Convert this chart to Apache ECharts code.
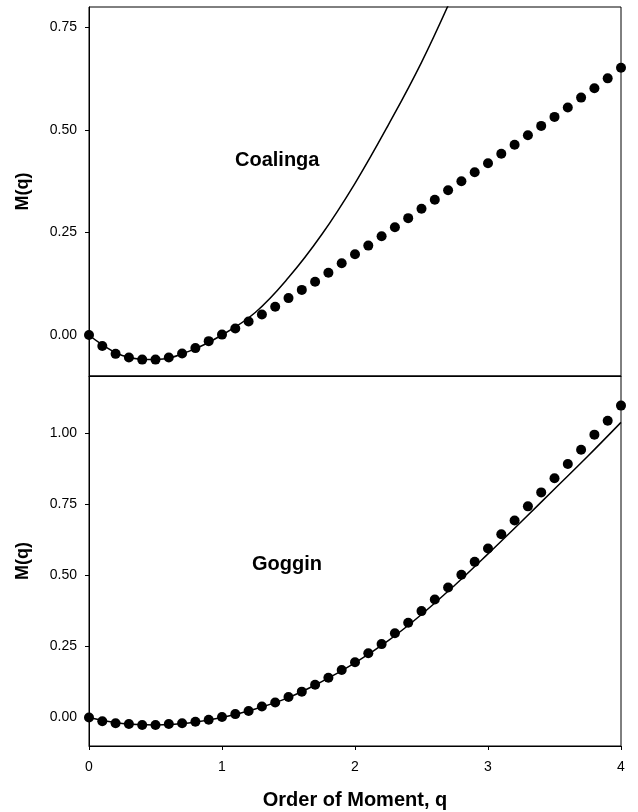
<!DOCTYPE html>
<html>
<head>
<meta charset="utf-8">
<script src="https://cdn.jsdelivr.net/npm/echarts@6/dist/echarts.min.js"></script>
<style>
html,body{margin:0;padding:0;background:#fff;}
#chart{width:638px;height:812px;}
</style>
</head>
<body>
<div id="chart"></div>
<script>
// Order of moment q (dot positions)
const qValues = [0.0,0.1,0.2,0.3,0.4,0.5,0.6,0.7,0.8,0.9,1.0,1.1,1.2,1.3,1.4,1.5,1.6,1.7,1.8,1.9,2.0,
  2.1,2.2,2.3,2.4,2.5,2.6,2.7,2.8,2.9,3.0,3.1,3.2,3.3,3.4,3.5,3.6,3.7,3.8,3.9,4.0];

// Coalinga measured M(q)
const coalingaDots = [0.000,-0.027,-0.046,-0.055,-0.060,-0.060,-0.055,-0.045,-0.032,-0.015,0.001,
  0.016,0.033,0.050,0.069,0.090,0.110,0.130,0.152,0.175,0.197,
  0.218,0.241,0.263,0.285,0.308,0.330,0.353,0.375,0.397,0.419,
  0.442,0.464,0.487,0.510,0.532,0.555,0.579,0.602,0.626,0.652];

// Coalinga model curve
const coalingaLineQ = [0,0.25,0.5,0.75,1.0,1.25,1.5,1.75,2.0,2.25,2.5,2.75];
const coalingaLine  = [0,-0.050,-0.060,-0.040,0.000,0.055,0.140,0.245,0.370,0.512,0.665,0.840];

// Goggin measured M(q)
const gogginDots = [0.000,-0.013,-0.020,-0.023,-0.026,-0.026,-0.023,-0.020,-0.015,-0.008,0.002,
  0.012,0.023,0.039,0.053,0.072,0.091,0.115,0.140,0.167,0.194,
  0.226,0.258,0.296,0.333,0.374,0.415,0.457,0.502,0.547,0.594,
  0.644,0.692,0.742,0.791,0.841,0.891,0.941,0.994,1.043,1.096];

// Goggin model curve
const gogginLineQ = [0,0.25,0.5,0.75,1.0,1.25,1.5,1.75,2.0,2.25,2.5,2.75,3.0,3.25,3.5,3.75,4.0];
const gogginLine  = [0,-0.021,-0.026,-0.019,0.000,0.030,0.070,0.126,0.192,0.270,0.362,0.465,0.575,0.688,0.803,0.918,1.037];

// Tick labels
const xTicks = [0,1,2,3,4];
const topYTicks = [0,0.25,0.5,0.75];
const bottomYTicks = [0,0.25,0.5,0.75,1.0];
const panelNames = ['Coalinga','Goggin'];
const yAxisTitle = 'M(q)';
const xAxisTitle = 'Order of Moment, q';

const FONT = "'Liberation Sans', Arial, Helvetica, sans-serif";
const pair = (xs, ys) => xs.map((x, i) => [x, ys[i]]);

const chart = echarts.init(document.getElementById('chart'), null, {renderer: 'canvas'});

function yAxisCfg(gridIndex, min, max, ticks) {
  return {
    type: 'value', gridIndex, min, max,
    name: yAxisTitle, nameLocation: 'middle', nameGap: 57, nameRotate: 90,
    nameTextStyle: {fontFamily: FONT, fontSize: 18, fontWeight: 'bold', color: '#000'},
    axisLine: {show: true, onZero: false, lineStyle: {color: '#000', width: 1}},
    axisTick: {show: true, length: 4, customValues: ticks, lineStyle: {color: '#000'}},
    axisLabel: {show: true, customValues: ticks, margin: 12, fontFamily: FONT, fontSize: 14, color: '#000',
      formatter: v => Number(v).toFixed(2)},
    splitLine: {show: false}
  };
}

const option = {
  backgroundColor: '#fff',
  animation: false,
  grid: [
    {left: 89, right: 17, top: 7, height: 369, show: true, borderColor: '#000', borderWidth: 1, containLabel: false},
    {left: 89, right: 17, top: 376, height: 370, show: true, borderColor: '#000', borderWidth: 1, containLabel: false}
  ],
  xAxis: [
    {type: 'value', gridIndex: 0, min: 0, max: 4, interval: 1,
      axisLine: {show: true, onZero: false, lineStyle: {color: '#000'}},
      axisTick: {show: false}, axisLabel: {show: false}, splitLine: {show: false}},
    {type: 'value', gridIndex: 1, min: 0, max: 4, interval: 1,
      name: xAxisTitle, nameLocation: 'middle', nameGap: 44,
      nameTextStyle: {fontFamily: FONT, fontSize: 20, fontWeight: 'bold', color: '#000'},
      axisLine: {show: true, onZero: false, lineStyle: {color: '#000'}},
      axisTick: {show: true, length: 4, customValues: xTicks, lineStyle: {color: '#000'}},
      axisLabel: {show: true, customValues: xTicks, margin: 14, fontFamily: FONT, fontSize: 14, color: '#000'},
      splitLine: {show: false}}
  ],
  yAxis: [
    yAxisCfg(0, -0.1, 0.8, topYTicks),
    yAxisCfg(1, -0.1, 1.2, bottomYTicks)
  ],
  graphic: [
    {type: 'text', left: 235, top: 150, style: {text: panelNames[0], font: "bold 20px " + FONT, fill: '#000'}},
    {type: 'text', left: 252, top: 554, style: {text: panelNames[1], font: "bold 20px " + FONT, fill: '#000'}}
  ],
  series: [
    {type: 'line', xAxisIndex: 0, yAxisIndex: 0, data: pair(coalingaLineQ, coalingaLine),
      smooth: 0.4, showSymbol: false, clip: true, lineStyle: {color: '#000', width: 1.5}, z: 2},
    {type: 'scatter', xAxisIndex: 0, yAxisIndex: 0, data: pair(qValues, coalingaDots),
      symbol: 'circle', symbolSize: 10, itemStyle: {color: '#000', opacity: 1}, clip: false, z: 3},
    {type: 'line', xAxisIndex: 1, yAxisIndex: 1, data: pair(gogginLineQ, gogginLine),
      smooth: 0.4, showSymbol: false, clip: true, lineStyle: {color: '#000', width: 1.5}, z: 2},
    {type: 'scatter', xAxisIndex: 1, yAxisIndex: 1, data: pair(qValues, gogginDots),
      symbol: 'circle', symbolSize: 10, itemStyle: {color: '#000', opacity: 1}, clip: false, z: 3}
  ]
};
chart.setOption(option);
</script>
</body>
</html>
